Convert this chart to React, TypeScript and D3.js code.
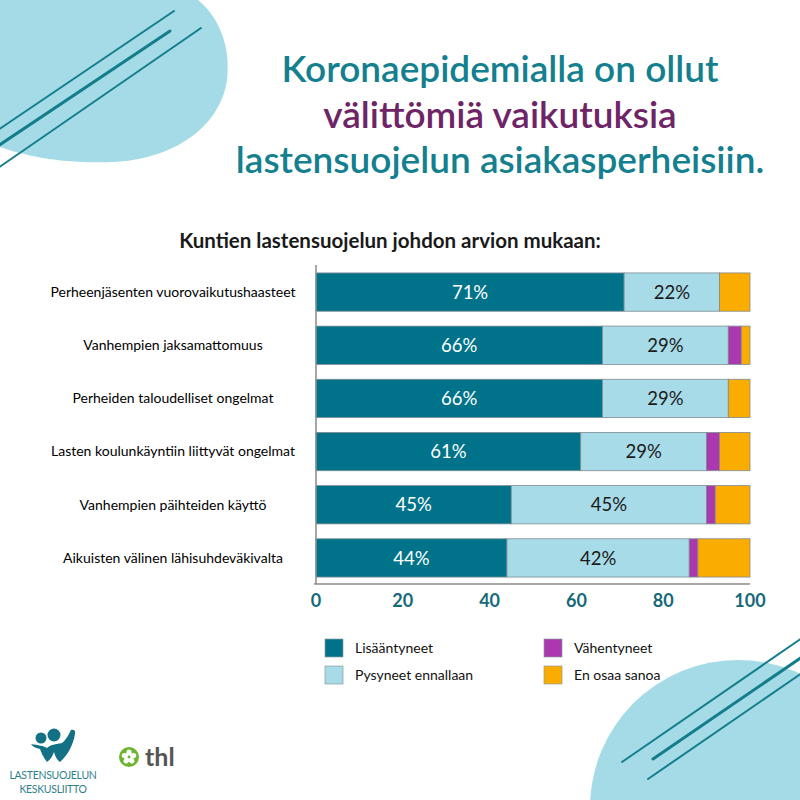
import React from "react";
import * as d3 from "d3";

const categories = [
  "Perheenjäsenten vuorovaikutushaasteet",
  "Vanhempien jaksamattomuus",
  "Perheiden taloudelliset ongelmat",
  "Lasten koulunkäyntiin liittyvät ongelmat",
  "Vanhempien päihteiden käyttö",
  "Aikuisten välinen lähisuhdeväkivalta",
];
const seriesKeys = ["Lisääntyneet", "Pysyneet ennallaan", "Vähentyneet", "En osaa sanoa"];
const lisaantyneet = [71, 66, 66, 61, 45, 44];
const pysyneet = [22, 29, 29, 29, 45, 42];
const vahentyneet = [0, 3, 0, 3, 2, 2];
const enOsaa = [7, 2, 5, 7, 8, 12];
const xTicks = [0, 20, 40, 60, 80, 100];
const colors = ["#00738a", "#a7dbe7", "#ac38b0", "#fbac00"];

const titleLines = [
  { text: "Koronaepidemialla on ollut", color: "#137f8f" },
  { text: "välittömiä vaikutuksia", color: "#6e2466" },
  { text: "lastensuojelun asiakasperheisiin.", color: "#137f8f" },
];
const subtitle = "Kuntien lastensuojelun johdon arvion mukaan:";

const FONT = "Lato, 'Open Sans', sans-serif";

export default function App() {
  const rows = categories.map((c, i) => ({
    cat: c,
    [seriesKeys[0]]: lisaantyneet[i],
    [seriesKeys[1]]: pysyneet[i],
    [seriesKeys[2]]: vahentyneet[i],
    [seriesKeys[3]]: enOsaa[i],
  }));
  const stacked = d3.stack<any>().keys(seriesKeys)(rows);
  const x = d3.scaleLinear().domain([0, 100]).range([316, 750]);
  const y = d3
    .scaleBand<string>()
    .domain(categories)
    .range([265.5, 584.5])
    .paddingInner(0.28)
    .paddingOuter(0.14);
  const bw = y.bandwidth();
  const legendPos = [
    [325, 639],
    [325, 666],
    [544, 639],
    [544, 666],
  ];

  return (
    <svg width={800} height={800} style={{ display: "block", position: "absolute", left: 0, top: 0 }}>
      <rect width={800} height={800} fill="#ffffff" />
      {/* decorative top-left */}
      <path
        d="M0 0 L198 0 C220 18 231 48 227 80 C220 128 172 160 112 162 C62 164 26 156 0 147 Z"
        fill="#a5dbe6"
      />
      <g stroke="#137d8c" strokeLinecap="round">
        <line x1={-2} y1={130} x2={174} y2={11} strokeWidth={2} />
        <line x1={-2} y1={146} x2={170} y2={31} strokeWidth={3} />
        <line x1={-2} y1={168} x2={201} y2={28} strokeWidth={2} />
      </g>
      {/* decorative bottom-right */}
      <circle cx={738} cy={808} r={148} fill="#a5dbe6" />
      <g stroke="#137d8c" strokeLinecap="round">
        <line x1={622} y1={762} x2={802} y2={638} strokeWidth={2} />
        <line x1={653} y1={759} x2={802} y2={657} strokeWidth={3} />
        <line x1={648} y1={779} x2={802} y2={673} strokeWidth={2} />
      </g>

      {/* title */}
      {titleLines.map((t, i) => (
        <text
          key={i}
          x={500}
          y={82 + i * 45.5}
          textAnchor="middle"
          fontFamily={FONT}
          fontSize={37}
          fontWeight={600}
          fill={t.color}
        >
          {t.text}
        </text>
      ))}
      <text x={390} y={248} textAnchor="middle" fontFamily={FONT} fontSize={20.5} fontWeight={700} fill="#1a1a1a">
        {subtitle}
      </text>

      {/* bars */}
      {stacked.map((s, si) => (
        <g key={s.key}>
          {s.map((d, i) => {
            const w = x(d[1]) - x(d[0]);
            if (w <= 0) return null;
            return (
              <rect
                key={i}
                x={x(d[0])}
                y={y(categories[i])!}
                width={w}
                height={bw}
                fill={colors[si]}
                stroke="#7e8c92"
                strokeWidth={0.8}
              />
            );
          })}
        </g>
      ))}
      {/* value labels */}
      {stacked.slice(0, 2).map((s, si) =>
        s.map((d, i) => (
          <text
            key={`${si}-${i}`}
            x={(x(d[0]) + x(d[1])) / 2}
            y={y(categories[i])! + bw / 2}
            dy="0.36em"
            textAnchor="middle"
            fontFamily={FONT}
            fontSize={18.5}
            fill={si === 0 ? "#ffffff" : "#1a1a1a"}
          >
            {`${d[1] - d[0]}%`}
          </text>
        ))
      )}
      {/* category labels */}
      {categories.map((c) => (
        <text
          key={c}
          x={173}
          y={y(c)! + bw / 2}
          dy="0.35em"
          textAnchor="middle"
          fontFamily={FONT}
          fontSize={14}
          fill="#000"
        >
          {c}
        </text>
      ))}
      {/* axes */}
      <line x1={x(0)} y1={265} x2={x(0)} y2={584} stroke="#8a8a8a" strokeWidth={1.5} />
      <line x1={x(0) - 2} y1={584} x2={x(100)} y2={584} stroke="#8a8a8a" strokeWidth={1.5} />
      {xTicks.map((t) => (
        <text
          key={t}
          x={x(t)}
          y={601}
          dy="0.35em"
          textAnchor="middle"
          fontFamily={FONT}
          fontSize={18}
          fontWeight={700}
          fill="#17697a"
        >
          {t}
        </text>
      ))}

      {/* legend */}
      {seriesKeys.map((k, i) => {
        const p = legendPos[i];
        return (
          <g key={k}>
            <rect x={p[0]} y={p[1]} width={18} height={18} fill={colors[i]} stroke="#8e9ca0" strokeWidth={0.7} />
            <text x={p[0] + 30} y={p[1] + 9} dy="0.35em" fontFamily={FONT} fontSize={14} fill="#111">
              {k}
            </text>
          </g>
        );
      })}

      {/* logos */}
      <g fill="#137186">
        <circle cx={41} cy={738} r={5.5} />
        <circle cx={54} cy={735} r={6.5} />
        <path d="M31 744 C38 745 44 746 47 748 C50 745 56 744 62 743 C66 740 69 734 71 730 C74 729 76 731 75 734 C73 746 67 756 60 762 C57 760 55 756 54 752 C52 757 50 760 47 762 C43 757 41 752 40 749 C36 748 33 747 31 744 Z" />
      </g>
      <text x={53} y={779} textAnchor="middle" fontFamily={FONT} fontSize={10.5} fill="#2f7f90" letterSpacing={-0.3}>
        LASTENSUOJELUN
      </text>
      <text x={53} y={793} textAnchor="middle" fontFamily={FONT} fontSize={10.5} fill="#2f7f90" letterSpacing={-0.3}>
        KESKUSLIITTO
      </text>
      <circle cx={129} cy={757} r={10} fill="#6db52f" />
      {[0, 72, 144, 216, 288].map((a) => {
        const cx = 129 + 4.2 * Math.sin((a * Math.PI) / 180);
        const cy = 757 - 4.2 * Math.cos((a * Math.PI) / 180);
        return (
          <ellipse key={a} cx={cx} cy={cy} rx={2.6} ry={3.3} transform={`rotate(${a} ${cx} ${cy})`} fill="#ffffff" />
        );
      })}
      <circle cx={129} cy={757} r={1.4} fill="#6db52f" />
      <text x={145} y={766} fontFamily={FONT} fontSize={25} fontWeight={700} fill="#555">
        thl
      </text>
    </svg>
  );
}
